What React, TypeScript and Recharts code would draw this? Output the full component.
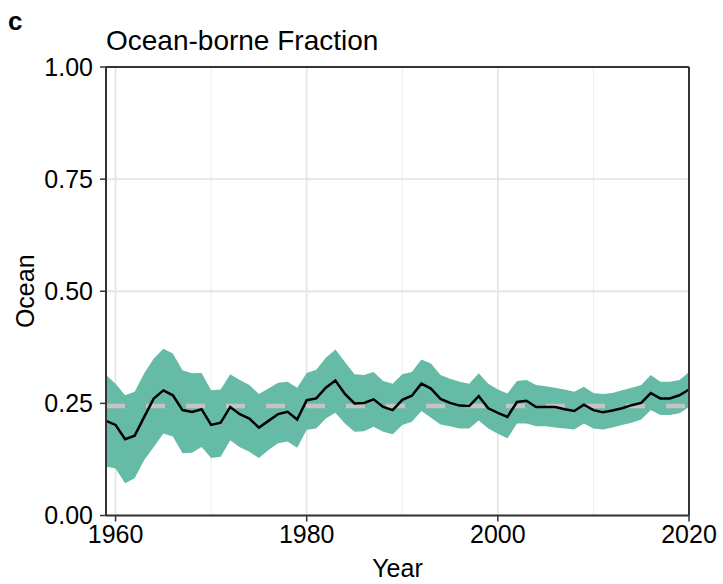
import React from 'react';
import { ComposedChart, Area, Line, XAxis, YAxis, ReferenceLine, CartesianGrid } from 'recharts';

const years = [
  1959, 1960, 1961, 1962, 1963, 1964, 1965, 1966, 1967, 1968,
  1969, 1970, 1971, 1972, 1973, 1974, 1975, 1976, 1977, 1978,
  1979, 1980, 1981, 1982, 1983, 1984, 1985, 1986, 1987, 1988,
  1989, 1990, 1991, 1992, 1993, 1994, 1995, 1996, 1997, 1998,
  1999, 2000, 2001, 2002, 2003, 2004, 2005, 2006, 2007, 2008,
  2009, 2010, 2011, 2012, 2013, 2014, 2015, 2016, 2017, 2018,
  2019, 2020,
];

const oceanFraction = [
  0.211, 0.202, 0.170, 0.178, 0.220, 0.261, 0.279, 0.268, 0.235, 0.231,
  0.237, 0.202, 0.207, 0.242, 0.226, 0.216, 0.196, 0.211, 0.226, 0.231,
  0.214, 0.257, 0.261, 0.285, 0.301, 0.271, 0.250, 0.251, 0.259, 0.242,
  0.235, 0.258, 0.267, 0.294, 0.283, 0.260, 0.251, 0.245, 0.244, 0.266,
  0.239, 0.229, 0.220, 0.253, 0.256, 0.242, 0.242, 0.242, 0.237, 0.233,
  0.247, 0.235, 0.230, 0.234, 0.239, 0.246, 0.251, 0.273, 0.261, 0.261,
  0.268, 0.281,
];

const upperBound = [
  0.313, 0.294, 0.268, 0.276, 0.317, 0.350, 0.372, 0.361, 0.324, 0.317,
  0.318, 0.279, 0.281, 0.315, 0.302, 0.291, 0.271, 0.283, 0.296, 0.298,
  0.285, 0.318, 0.325, 0.352, 0.370, 0.342, 0.315, 0.313, 0.320, 0.300,
  0.294, 0.315, 0.320, 0.348, 0.339, 0.313, 0.305, 0.298, 0.294, 0.317,
  0.294, 0.281, 0.272, 0.300, 0.302, 0.291, 0.288, 0.285, 0.281, 0.276,
  0.287, 0.273, 0.271, 0.273, 0.279, 0.285, 0.291, 0.313, 0.298, 0.298,
  0.302, 0.320,
];

const lowerBound = [
  0.109, 0.105, 0.072, 0.083, 0.124, 0.153, 0.183, 0.176, 0.139, 0.140,
  0.153, 0.128, 0.131, 0.168, 0.152, 0.142, 0.128, 0.146, 0.161, 0.165,
  0.151, 0.191, 0.194, 0.216, 0.229, 0.205, 0.187, 0.188, 0.198, 0.187,
  0.181, 0.202, 0.209, 0.233, 0.218, 0.203, 0.199, 0.194, 0.194, 0.212,
  0.194, 0.182, 0.172, 0.205, 0.205, 0.199, 0.199, 0.196, 0.194, 0.192,
  0.205, 0.194, 0.192, 0.196, 0.202, 0.207, 0.214, 0.235, 0.224, 0.224,
  0.228, 0.242,
];

const meanFraction = 0.244;

const xTicks = [1960, 1980, 2000, 2020];
const xMinor = [1970, 1990, 2010];
const yTicks = [0, 0.25, 0.5, 0.75, 1];
const yMinor = [0.125, 0.375, 0.625, 0.875];

const FONT = '"Liberation Sans", Arial, Helvetica, sans-serif';
const FRAME = '#333333';

const data = years.map((year, i) => ({
  year,
  ocean: oceanFraction[i],
  band: [lowerBound[i], upperBound[i]],
}));

export default function App() {
  return (
    <div style={{ position: 'absolute', left: 0, top: 0, width: 723, height: 584, background: '#fff' }}>
      <ComposedChart
        width={723}
        height={584}
        data={data}
        margin={{ top: 67, right: 34, left: 0, bottom: 0 }}
      >
        {/* minor grid via hidden axes */}
        <CartesianGrid xAxisId="minor" yAxisId="minor" stroke="#ededed" strokeWidth={1} />
        <CartesianGrid stroke="#e6e6e6" strokeWidth={1.8} />
        <XAxis xAxisId="minor" type="number" dataKey="year" domain={[1959, 2020]} ticks={xMinor} interval={0} hide />
        <YAxis yAxisId="minor" type="number" domain={[0, 1]} ticks={yMinor} interval={0} hide />
        <XAxis
          type="number"
          dataKey="year"
          domain={[1959, 2020]}
          ticks={xTicks}
          interval={0}
          height={68.5}
          tickSize={6}
          tickMargin={4}
          axisLine={{ stroke: FRAME, strokeWidth: 2 }}
          tickLine={{ stroke: FRAME, strokeWidth: 1.5 }}
          tick={{ fontSize: 25, fill: '#000', fontFamily: FONT }}
          label={{ value: 'Year', position: 'insideBottom', offset: 7, style: { fontSize: 25, fill: '#000', fontFamily: FONT } }}
        />
        <YAxis
          type="number"
          domain={[0, 1]}
          ticks={yTicks}
          interval={0}
          width={106}
          tickSize={6}
          tickMargin={7}
          tickFormatter={(v: number) => v.toFixed(2)}
          axisLine={{ stroke: FRAME, strokeWidth: 2 }}
          tickLine={{ stroke: FRAME, strokeWidth: 1.5 }}
          tick={{ fontSize: 25, fill: '#000', fontFamily: FONT }}
          label={{ value: 'Ocean', angle: -90, position: 'insideLeft', offset: 25, style: { fontSize: 25, fill: '#000', fontFamily: FONT, textAnchor: 'middle' } }}
        />
        <Area
          type="linear"
          dataKey="band"
          stroke="none"
          fill="#66bba7"
          fillOpacity={1}
          isAnimationActive={false}
        />
        <ReferenceLine y={meanFraction} stroke="#c4c4c4" strokeWidth={4.5} strokeDasharray="19 21" />
        <Line
          type="linear"
          dataKey="ocean"
          stroke="#000"
          strokeWidth={2.5}
          dot={false}
          isAnimationActive={false}
        />
        <ReferenceLine y={1} stroke={FRAME} strokeWidth={2} />
        <ReferenceLine x={2020} stroke={FRAME} strokeWidth={2} />
      </ComposedChart>
      <svg width={723} height={70} style={{ position: 'absolute', left: 0, top: 0, pointerEvents: 'none' }}>
        <text x={8} y={30} fontFamily={FONT} fontWeight="bold" fontSize={26} fill="#000">c</text>
        <text x={106} y={50} fontFamily={FONT} fontSize={28} fill="#000">Ocean-borne Fraction</text>
      </svg>
    </div>
  );
}
